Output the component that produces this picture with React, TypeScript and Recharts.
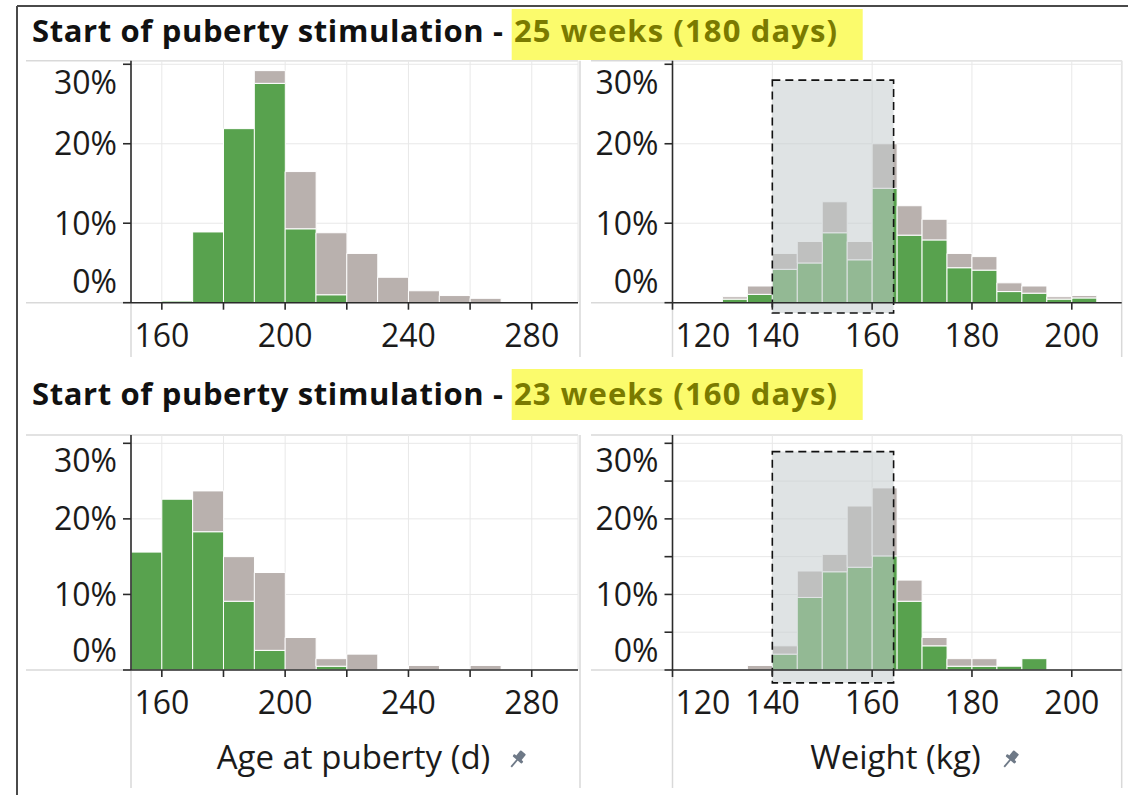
import React from "react";
import { BarChart, Bar, XAxis, YAxis, CartesianGrid, ReferenceArea } from "recharts";

// bin centres (10-day bins for age, 5-kg bins for weight)
const ageBinMid = [155, 165, 175, 185, 195, 205, 215, 225, 235, 245, 255, 265, 275, 285];
const weightBinMid = [
  122.5, 127.5, 132.5, 137.5, 142.5, 147.5, 152.5, 157.5, 162.5, 167.5, 172.5, 177.5, 182.5, 187.5,
  192.5, 197.5, 202.5, 207.5,
];

// 25 weeks (180 days)
const age25Green = [0, 0.2, 8.9, 21.9, 27.6, 9.3, 1.0, 0, 0, 0, 0, 0, 0, 0];
const age25Gray = [0, 0, 0, 0, 1.6, 7.2, 7.8, 6.2, 3.2, 1.5, 0.9, 0.55, 0, 0];
const weight25Green = [0, 0, 0.45, 1.05, 4.2, 5.0, 8.8, 5.4, 14.4, 8.5, 7.9, 4.4, 4.1, 1.4, 1.2, 0.45, 0.6, 0];
const weight25Gray = [0, 0, 0.3, 1.05, 2.0, 2.7, 3.9, 2.3, 5.6, 3.7, 2.6, 1.8, 1.7, 1.1, 0.9, 0.3, 0.3, 0];

// 23 weeks (160 days)
const age23Green = [15.6, 22.6, 18.3, 9.1, 2.6, 0, 0.5, 0, 0, 0, 0, 0, 0, 0];
const age23Gray = [0, 0, 5.4, 5.9, 10.3, 4.3, 1.0, 2.1, 0, 0.6, 0, 0.6, 0, 0];
const weight23Green = [0, 0, 0, 0, 2.1, 9.6, 13.0, 13.6, 15.1, 9.1, 3.2, 0.5, 0.5, 0.5, 1.5, 0, 0, 0];
const weight23Gray = [0, 0, 0, 0.6, 1.1, 3.5, 2.3, 8.1, 9.0, 2.8, 1.1, 1.0, 1.0, 0, 0, 0, 0, 0];

const ageTicks = [160, 180, 200, 220, 240, 260, 280];
const ageLabels = [160, 200, 240, 280];
const weightTicks = [120, 140, 160, 180, 200];
const weightLabels = [120, 140, 160, 180, 200];
const pctTicks = [0, 10, 20, 30];
const pctTicksFine = [0, 5, 10, 15, 20, 25, 30];
const pctLabels = [0, 10, 20, 30];

const titleText = "Start of puberty stimulation -";
const highlight25 = "25 weeks (180 days)";
const highlight23 = "23 weeks (160 days)";

const GREEN = "#58a24e";
const GRAY = "#b9b1ae";
const FONT = "'Open Sans', 'Noto Sans', sans-serif";
const LIGHT = "#d9d9d9";
const TICK_FONT = 32;

const rows = (mid: number[], green: number[], gray: number[]) =>
  mid.map((m, i) => ({ mid: m, green: green[i], gray: gray[i] }));

const YTick = (p: any) => {
  const v = p.payload.value;
  if (!p.labels.includes(v)) return <g />;
  let dy = 11.5;
  if (v === 30) dy += p.shiftTop;
  if (v === 0) dy += p.shiftBottom;
  return (
    <text x={p.x} y={p.y + dy} textAnchor="end" fontFamily={FONT} fontSize={TICK_FONT} fill="#1b1b1b">
      {v}%
    </text>
  );
};

const XTick = (p: any) => {
  const v = p.payload.value;
  if (!p.labels.includes(v)) return <g />;
  const first = p.startFirst && p.index === 0;
  return (
    <text
      x={first ? p.x + 3 : p.x}
      y={p.y + 37}
      textAnchor={first ? "start" : "middle"}
      fontFamily={FONT}
      fontSize={TICK_FONT}
      fill="#1b1b1b"
    >
      {v}
    </text>
  );
};

type PanelProps = {
  left: number;
  top: number;
  width: number;
  marginTop: number;
  marginRight: number;
  marginBottom: number;
  yAxisWidth: number;
  data: { mid: number; green: number; gray: number }[];
  xDomain: [number, number];
  xTicks: number[];
  xLabels: number[];
  yMax: number;
  yTicks: number[];
  shiftTop: number;
  shiftBottom: number;
  startFirst?: boolean;
  shade?: { x1: number; x2: number; y1: number; y2: number };
};

const Panel = (p: PanelProps) => (
  <div style={{ position: "absolute", left: p.left, top: p.top }}>
    <BarChart
      width={p.width}
      height={330}
      data={p.data}
      margin={{ top: p.marginTop, right: p.marginRight, bottom: p.marginBottom, left: 0 }}
      barCategoryGap={0}
      barGap={0}
    >
      <CartesianGrid stroke="#e8e8e8" strokeWidth={1} />
      <Bar dataKey="green" stackId="s" fill={GREEN} stroke="#ffffff" strokeWidth={1} isAnimationActive={false} />
      <Bar dataKey="gray" stackId="s" fill={GRAY} stroke="#ffffff" strokeWidth={1} isAnimationActive={false} />
      {p.shade && (
        <ReferenceArea
          x1={p.shade.x1}
          x2={p.shade.x2}
          y1={p.shade.y1}
          y2={p.shade.y2}
          ifOverflow="visible"
          fill="#c4ccce"
          fillOpacity={0.55}
          stroke="#111111"
          strokeWidth={1.6}
          strokeDasharray="8 5"
          zIndex={400}
        />
      )}
      <XAxis
        dataKey="mid"
        type="number"
        domain={p.xDomain}
        ticks={p.xTicks}
        interval={0}
        allowDataOverflow
        height={60}
        tickSize={7}
        tickMargin={0}
        axisLine={{ stroke: "#2b2b2b", strokeWidth: 1.6 }}
        tickLine={{ stroke: "#2b2b2b", strokeWidth: 1.6 }}
        tick={(t: any) => <XTick {...t} labels={p.xLabels} startFirst={p.startFirst} />}
      />
      <YAxis
        type="number"
        domain={[0, p.yMax]}
        ticks={p.yTicks}
        interval={0}
        allowDataOverflow
        width={p.yAxisWidth}
        tickSize={8}
        tickMargin={6}
        axisLine={{ stroke: "#2b2b2b", strokeWidth: 1.6 }}
        tickLine={{ stroke: "#2b2b2b", strokeWidth: 1.6 }}
        tick={(t: any) => (
          <YTick {...t} labels={pctLabels} shiftTop={p.shiftTop} shiftBottom={p.shiftBottom} />
        )}
      />
    </BarChart>
  </div>
);

const Pin = ({ x, y }: { x: number; y: number }) => (
  <g transform={`translate(${x},${y}) rotate(40)`} fill="#6e7987" stroke="none">
    <rect x={-3.5} y={-10} width={7} height={8} rx={1} />
    <rect x={-6} y={-3} width={12} height={3} rx={1} />
    <line x1={0} y1={-1} x2={0} y2={9} stroke="#6e7987" strokeWidth={1.8} />
  </g>
);

const frameLines = (plotTop: number, base: number, lower: number) => [
  [26, plotTop, 578, plotTop],
  [591, plotTop, 1121.7, plotTop],
  [26, base, 131, base],
  [591, base, 672.5, base],
  [131, base, 131, lower],
  [672.5, base, 672.5, lower],
  [580, plotTop, 580, lower],
  [1121.7, plotTop, 1121.7, lower],
];

const Title = ({ y, top, label }: { y: number; top: number; label: string }) => (
  <g fontFamily={FONT} fontWeight={700} fontSize={31}>
    <rect x={511.7} y={top} width={351} height={51} fill="#fbfb6c" />
    <text x={32} y={y} fill="#111111" textLength={471} lengthAdjust="spacing">
      {titleText}
    </text>
    <text x={514} y={y} fill="#7a7a00" textLength={323} lengthAdjust="spacing">
      {label}
    </text>
  </g>
);

export default function App() {
  const lines = [...frameLines(60.7, 302.7, 357), ...frameLines(435, 670, 788)];
  return (
    <div
      style={{
        position: "absolute",
        left: 0,
        top: 0,
        width: 1128,
        height: 795,
        background: "#ffffff",
        overflow: "hidden",
        fontFamily: FONT,
      }}
    >
      <svg width={1128} height={795} style={{ position: "absolute", left: 0, top: 0 }}>
        {lines.map((l, i) => (
          <line key={i} x1={l[0]} y1={l[1]} x2={l[2]} y2={l[3]} stroke={LIGHT} strokeWidth={1.5} />
        ))}
        <line x1={17} y1={6} x2={1128} y2={6} stroke="#4a4a4a" strokeWidth={2} />
        <line x1={17} y1={6} x2={17} y2={795} stroke="#4a4a4a" strokeWidth={2} />
        <Title y={42} top={9} label={highlight25} />
        <Title y={405} top={369} label={highlight23} />
        <text x={353.5} y={769} textAnchor="middle" fontFamily={FONT} fontSize={33} fill="#1b1b1b">
          Age at puberty (d)
        </text>
        <Pin x={517} y={760} />
        <text x={895.5} y={769} textAnchor="middle" fontFamily={FONT} fontSize={33} fill="#1b1b1b">
          Weight (kg)
        </text>
        <Pin x={1010} y={760} />
      </svg>

      <Panel
        left={20}
        top={40}
        width={570}
        marginTop={20.7}
        marginRight={12}
        marginBottom={7.3}
        yAxisWidth={111}
        data={rows(ageBinMid, age25Green, age25Gray)}
        xDomain={[150, 295]}
        xTicks={ageTicks}
        xLabels={ageLabels}
        yMax={30.45}
        yTicks={pctTicks}
        shiftTop={18}
        shiftBottom={-21}
      />
      <Panel
        left={590}
        top={40}
        width={538}
        marginTop={20.7}
        marginRight={6.3}
        marginBottom={7.3}
        yAxisWidth={82.5}
        data={rows(weightBinMid, weight25Green, weight25Gray)}
        xDomain={[120, 210]}
        xTicks={weightTicks}
        xLabels={weightLabels}
        yMax={30.45}
        yTicks={pctTicks}
        shiftTop={18}
        shiftBottom={-21}
        startFirst
        shade={{ x1: 140, x2: 164.3, y1: -1.3, y2: 28 }}
      />
      <Panel
        left={20}
        top={410}
        width={570}
        marginTop={25}
        marginRight={12}
        marginBottom={10}
        yAxisWidth={111}
        data={rows(ageBinMid, age23Green, age23Gray)}
        xDomain={[150, 295]}
        xTicks={ageTicks}
        xLabels={ageLabels}
        yMax={31.1}
        yTicks={pctTicks}
        shiftTop={17}
        shiftBottom={-20}
      />
      <Panel
        left={590}
        top={410}
        width={538}
        marginTop={25}
        marginRight={6.3}
        marginBottom={10}
        yAxisWidth={82.5}
        data={rows(weightBinMid, weight23Green, weight23Gray)}
        xDomain={[120, 210]}
        xTicks={weightTicks}
        xLabels={weightLabels}
        yMax={31.1}
        yTicks={pctTicksFine}
        shiftTop={17}
        shiftBottom={-20}
        startFirst
        shade={{ x1: 140, x2: 164.3, y1: -1.7, y2: 28.9 }}
      />
    </div>
  );
}
